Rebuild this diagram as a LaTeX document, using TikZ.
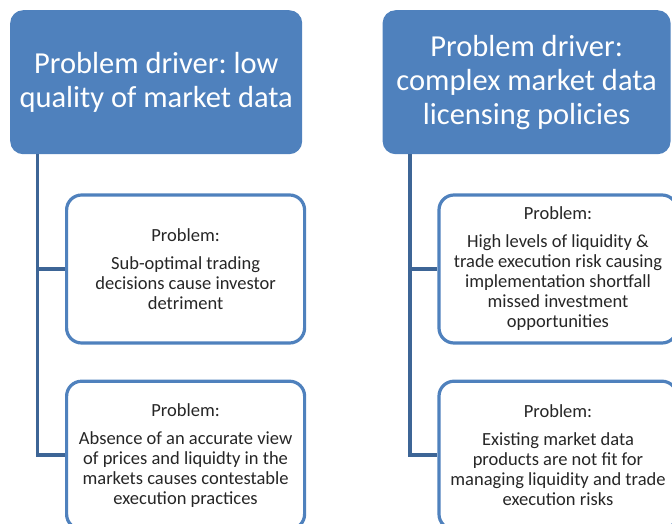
\documentclass[tikz,border=0pt]{standalone}
\usepackage{fontspec}
\setmainfont{Carlito}
\frenchspacing
\usetikzlibrary{positioning}
\definecolor{drvblue}{HTML}{4F81BD}
\definecolor{linkblue}{HTML}{3D6596}
\pgfmathsetmacro{\probgap}{35}
\pgfmathsetmacro{\trunkoff}{27.5}

\begin{document}
\begin{tikzpicture}[
    x=1pt, y=1pt,
    driver/.style={fill=drvblue, text=white, rounded corners=13pt, align=center,
        inner sep=0pt, minimum height=144pt, font=\fontsize{30.5}{34}\selectfont},
    problem/.style={draw=drvblue, line width=3.2pt, fill=white, rounded corners=15pt,
        align=center, inner sep=0pt, minimum width=238pt, minimum height=148pt,
        text=black!85, font=\fontsize{18.5}{20}\selectfont},
    link/.style={draw=linkblue, line width=3.6pt}
]
    \useasboundingbox (0,0) rectangle (672,-524);
    % define drivers
    \node[driver, minimum width=292pt, anchor=north west] (drv_low) at (10,-10)
        {Problem driver: low\\quality of market data};
    \node[driver, minimum width=288pt, right=80pt of drv_low] (drv_lic)
        {Problem driver:\\complex market data\\licensing policies};
    % trunk coordinates
    \coordinate (trunk_low) at ([xshift=\trunkoff pt]drv_low.south west);
    \coordinate (trunk_lic) at ([xshift=\trunkoff pt]drv_lic.south west);
    % low quality problems
    \node[problem, below=39pt of drv_low.south west, anchor=north west, xshift=55pt] (prob_low_a)
        {Problem:\\[8pt]Sub-optimal trading\\decisions cause investor\\detriment};
    \node[problem, below=\probgap pt of prob_low_a.south west, anchor=north west] (prob_low_b)
        {Problem:\\[8pt]Absence of an accurate view\\of prices and liquidty in the\\markets causes contestable\\execution practices};
    % licensing problems
    \node[problem, below=39pt of drv_lic.south west, anchor=north west, xshift=55pt] (prob_lic_a)
        {Problem:\\[8pt]High levels of liquidity \&\\trade execution risk causing\\implementation shortfall\\missed investment\\opportunities};
    \node[problem, below=\probgap pt of prob_lic_a.south west, anchor=north west] (prob_lic_b)
        {Problem:\\[8pt]Existing market data\\products are not fit for\\managing liquidity and trade\\execution risks};
    % draw links
    \draw[link] (trunk_low) |- (prob_low_b.west);
    \draw[link] (trunk_low |- prob_low_a.west) -- (prob_low_a.west);
    \draw[link] (trunk_lic) |- (prob_lic_b.west);
    \draw[link] (trunk_lic |- prob_lic_a.west) -- (prob_lic_a.west);
\end{tikzpicture}
\end{document}
